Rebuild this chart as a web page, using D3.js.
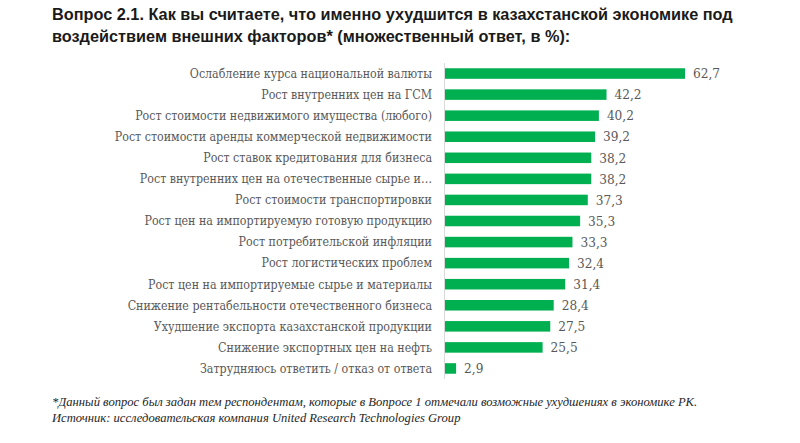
<!DOCTYPE html>
<html><head><meta charset="utf-8">
<script src="https://cdn.jsdelivr.net/npm/d3@7/dist/d3.min.js"></script>
<style>body{margin:0;background:#fff}</style>
</head><body>
<svg id="c" width="800" height="443"></svg>
<script>
const categories = [
  "Ослабление курса национальной валюты",
  "Рост внутренних цен на ГСМ",
  "Рост стоимости недвижимого имущества (любого)",
  "Рост стоимости аренды коммерческой недвижимости",
  "Рост ставок кредитования для бизнеса",
  "Рост внутренних цен на отечественные сырье и…",
  "Рост стоимости транспортировки",
  "Рост цен на импортируемую готовую продукцию",
  "Рост потребительской инфляции",
  "Рост логистических проблем",
  "Рост цен на импортируемые сырье и материалы",
  "Снижение рентабельности отечественного бизнеса",
  "Ухудшение экспорта казахстанской продукции",
  "Снижение экспортных цен на нефть",
  "Затрудняюсь ответить / отказ от ответа"
];
const values = [62.7, 42.2, 40.2, 39.2, 38.2, 38.2, 37.3, 35.3, 33.3, 32.4, 31.4, 28.4, 27.5, 25.5, 2.9];
const titleLines = [
  "Вопрос 2.1. Как вы считаете, что именно ухудшится в казахстанской экономике под",
  "воздействием внешних факторов* (множественный ответ, в %):"
];
const footLines = [
  "*Данный вопрос был задан тем респондентам, которые в Вопросе 1 отмечали возможные ухудшениях в экономике РК.",
  "Источник: исследовательская компания United Research Technologies Group"
];

const svg = d3.select("#c");
const x = d3.scaleLinear().domain([0, 62.7]).range([445, 685]);
const y = d3.scaleBand().domain(categories).range([63, 379]).paddingInner(0.5).paddingOuter(0.25);

svg.selectAll("text.title").data(titleLines).join("text")
  .attr("x", 52).attr("y", (d,i) => 20 + i*22)
  .attr("font-family", "'Liberation Sans', Arial, sans-serif")
  .attr("font-weight", "bold").attr("font-size", 16.3).attr("fill", "#1a1a1a")
  .text(d => d);

svg.selectAll("rect.bar").data(values).join("rect")
  .attr("x", x(0)).attr("y", (d,i) => y(categories[i]))
  .attr("width", d => x(d) - x(0)).attr("height", y.bandwidth())
  .attr("fill", "#00b050");

svg.append("line").attr("x1", 444.5).attr("x2", 444.5).attr("y1", 63).attr("y2", 379)
  .attr("stroke", "#d9d9d9").attr("stroke-width", 1);

svg.selectAll("text.lab").data(categories).join("text")
  .attr("x", 432).attr("y", d => y(d) + y.bandwidth()/2)
  .attr("dy", "0.35em").attr("text-anchor", "end")
  .attr("font-family", "'DejaVu Serif Condensed', 'DejaVu Serif', serif").attr("font-size", 12.3)
  .attr("fill", "#595959").text(d => d);

svg.selectAll("text.val").data(values).join("text")
  .attr("x", d => x(d) + 8).attr("y", (d,i) => y(categories[i]) + y.bandwidth()/2)
  .attr("dy", "0.35em")
  .attr("font-family", "'DejaVu Serif Condensed', 'DejaVu Serif', serif").attr("font-size", 13.5)
  .attr("fill", "#595959").text(d => d.toFixed(1).replace(".", ","));

svg.selectAll("text.foot").data(footLines).join("text")
  .attr("x", 52).attr("y", (d,i) => 406 + i*16)
  .attr("font-family", "'Liberation Serif', serif").attr("font-style", "italic")
  .attr("font-size", 12.6).attr("fill", "#262626").text(d => d);
</script>
</body></html>
